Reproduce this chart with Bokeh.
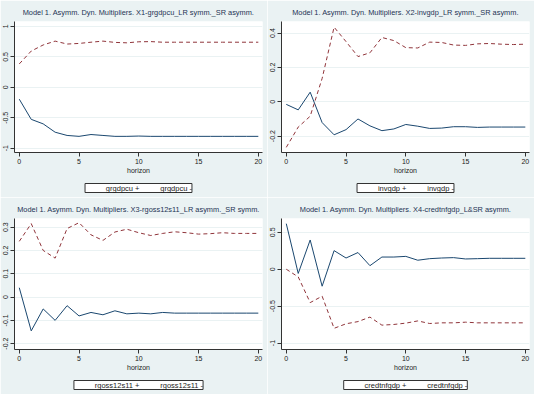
from bokeh.plotting import figure
from bokeh.models import Range1d, FixedTicker, Title
from bokeh.layouts import gridplot
from bokeh.embed import file_html
from bokeh.resources import INLINE

horizon = list(range(21))

titles = [
    "Model 1. Asymm. Dyn. Multipliers. X1-grgdpcu_LR symm._SR asymm.",
    "Model 1. Asymm. Dyn. Multipliers. X2-invgdp_LR symm._SR asymm.",
    "Model 1. Asymm. Dyn. Multipliers. X3-rgoss12s11_LR asymm._SR symm.",
    "Model 1. Asymm. Dyn. Multipliers. X4-credtnfgdp_L&SR asymm.",
]
names = ["grgdpcu", "invgdp", "rgoss12s11", "credtnfgdp"]

grgdpcu_pos = [-0.195, -0.526, -0.60, -0.737, -0.79, -0.805, -0.775, -0.79, -0.805, -0.805,
               -0.80, -0.805, -0.805, -0.805, -0.805, -0.805, -0.805, -0.805, -0.805, -0.805, -0.805]
grgdpcu_neg = [0.384, 0.595, 0.695, 0.758, 0.71, 0.72, 0.74, 0.758, 0.737, 0.73,
               0.747, 0.75, 0.74, 0.74, 0.74, 0.74, 0.74, 0.74, 0.74, 0.74, 0.74]

invgdp_pos = [-0.015, -0.047, 0.056, -0.121, -0.192, -0.162, -0.10, -0.14, -0.168, -0.158,
              -0.132, -0.142, -0.155, -0.153, -0.145, -0.145, -0.149, -0.147, -0.147, -0.147, -0.147]
invgdp_neg = [-0.265, -0.147, -0.084, 0.136, 0.434, 0.35, 0.263, 0.285, 0.374, 0.356,
              0.315, 0.313, 0.347, 0.345, 0.33, 0.328, 0.337, 0.339, 0.335, 0.333, 0.335]

rgoss_pos = [0.04, -0.145, -0.051, -0.10, -0.037, -0.081, -0.066, -0.076, -0.059, -0.072,
             -0.069, -0.072, -0.066, -0.069, -0.069, -0.069, -0.069, -0.069, -0.069, -0.069, -0.069]
rgoss_neg = [0.239, 0.315, 0.20, 0.167, 0.294, 0.319, 0.267, 0.243, 0.279, 0.291,
             0.276, 0.264, 0.273, 0.28, 0.276, 0.27, 0.272, 0.276, 0.273, 0.273, 0.273]

credt_pos = [0.617, -0.057, 0.396, -0.23, 0.252, 0.152, 0.226, 0.048, 0.165, 0.165,
             0.174, 0.122, 0.143, 0.152, 0.157, 0.139, 0.143, 0.148, 0.148, 0.148, 0.148]
credt_neg = [0.0, -0.104, -0.452, -0.365, -0.80, -0.739, -0.709, -0.648, -0.757, -0.748,
             -0.73, -0.70, -0.735, -0.726, -0.726, -0.717, -0.726, -0.726, -0.726, -0.726, -0.726]

pos_series = [grgdpcu_pos, invgdp_pos, rgoss_pos, credt_pos]
neg_series = [grgdpcu_neg, invgdp_neg, rgoss_neg, credt_neg]

x_ticks = [0, 5, 10, 15, 20]
y_ticks = [
    [-1, -0.5, 0, 0.5, 1],
    [-0.2, 0, 0.2, 0.4],
    [-0.2, -0.1, 0, 0.1, 0.2, 0.3],
    [-1, -0.5, 0, 0.5],
]
y_tick_labels = [
    ["-1", "-0.5", "0", "0.5", "1"],
    ["-0.2", "0", "0.2", "0.4"],
    ["-0.2", "-0.1", "0", "0.1", "0.2", "0.3"],
    ["-1", "-0.5", "0", "0.5"],
]
y_limits = [(-1.07, 1.08), (-0.295, 0.467), (-0.225, 0.337), (-1.087, 0.687)]

BG = "#EAF2F3"
NAVY = "#1A476F"
MAROON = "#90353B"
FONT = "Liberation Sans"
GAP = "\u00a0" * 10


def make_panel(i):
    p = figure(width=267, height=197, output_backend="svg", toolbar_location=None,
               x_range=Range1d(-0.4, 20.35), y_range=Range1d(*y_limits[i]),
               border_fill_color=BG, background_fill_color="white",
               outline_line_color=None)
    p.title.text = titles[i]
    p.title.text_font = FONT
    p.title.text_font_size = "7.4px"
    p.title.text_font_style = "normal"
    p.title.text_color = "#1E3354"
    p.title.align = "center"

    p.line(horizon, pos_series[i], line_color=NAVY, line_width=1.0)
    p.line(horizon, neg_series[i], line_color=MAROON, line_width=1.0, line_dash="4 3")

    p.xaxis.ticker = FixedTicker(ticks=x_ticks)
    p.yaxis.ticker = FixedTicker(ticks=y_ticks[i])
    p.yaxis.major_label_overrides = {t: s for t, s in zip(y_ticks[i], y_tick_labels[i])}
    p.yaxis.major_label_orientation = "vertical"
    p.xaxis.axis_label = "horizon"
    for ax in (p.xaxis, p.yaxis):
        ax.axis_line_color = "#333333"
        ax.major_tick_line_color = "#333333"
        ax.major_tick_out = 4
        ax.major_tick_in = 0
        ax.minor_tick_line_color = None
        ax.major_label_text_font = FONT
        ax.major_label_text_font_size = "7px"
        ax.major_label_text_color = "#222222"
        ax.major_label_standoff = 2
    p.xaxis.axis_label_text_font = FONT
    p.xaxis.axis_label_text_font_size = "7px"
    p.xaxis.axis_label_text_font_style = "normal"
    p.xaxis.axis_label_text_color = "#222222"
    p.xaxis.axis_label_standoff = 0
    p.xgrid.visible = False
    p.ygrid.ticker = FixedTicker(ticks=y_ticks[i])
    p.ygrid.grid_line_color = BG
    p.ygrid.grid_line_width = 1

    key = Title(text=GAP + names[i] + " +" + GAP + names[i] + " -",
                align="center", text_font=FONT, text_font_size="7.5px",
                text_font_style="normal", text_color="#222222",
                background_fill_color="white", border_line_color="#333333")
    p.add_layout(key, "below")
    return p


p1 = make_panel(0)
p2 = make_panel(1)
p3 = make_panel(2)
p4 = make_panel(3)

grid = gridplot([[p1, p2], [p3, p4]], toolbar_location=None)

open("out.html", "w").write(file_html(grid, INLINE))
